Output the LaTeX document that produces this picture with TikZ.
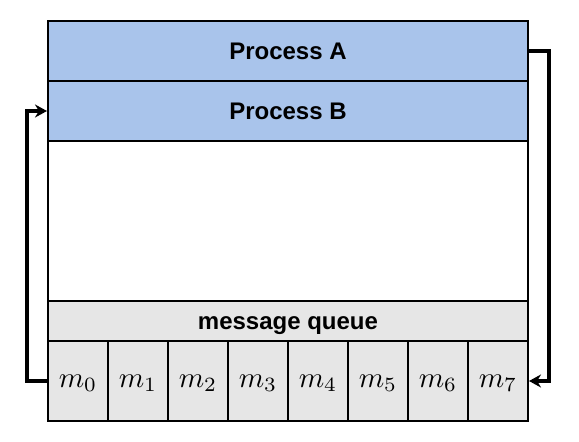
\documentclass[tikz,border=0pt]{standalone}
\usepackage{fontspec}
\setmainfont{Liberation Sans}
\usetikzlibrary{arrows.meta}
\definecolor{procblue}{HTML}{A9C4EB}
\definecolor{queuegray}{HTML}{E6E6E6}
\tikzset{
    rowbox/.style={draw,line width=2pt,minimum width=480pt,inner sep=0pt,
        text height=16.8pt,text depth=0pt,
        font=\fontsize{24}{28}\selectfont\bfseries},
    cellbox/.style={draw,line width=2pt,fill=queuegray,minimum width=60pt,
        minimum height=80pt,inner sep=0pt,text height=12.5pt,text depth=0pt},
    link/.style={->,line width=3.5pt}
}
\begin{document}
\begin{tikzpicture}[>={Stealth[length=12pt,width=13pt]},x=1pt,y=-1pt]
            \useasboundingbox (0,0) rectangle (579,442);
            \node[rowbox,fill=white,minimum height=160pt] (space) at (288,221) {};
            \node[rowbox,fill=procblue,minimum height=60pt] (procA) at (288,51) {Process A};
            \node[rowbox,fill=procblue,minimum height=60pt] (procB) at (288,111) {Process B};
            \node[rowbox,fill=queuegray,minimum height=40pt] (queue) at (288,321) {message queue};
            \foreach \i in {0,...,7}
                \node[cellbox] (m\i) at (78+60*\i,381) {\scalebox{2.9}{$m_\i$}};
            \draw[link] (procA.east) -- ++(20,0) |- (m7.east);
            \draw[link] (m0.west) -- ++(-20,0) |- (procB.west);
        \end{tikzpicture}
\end{document}
